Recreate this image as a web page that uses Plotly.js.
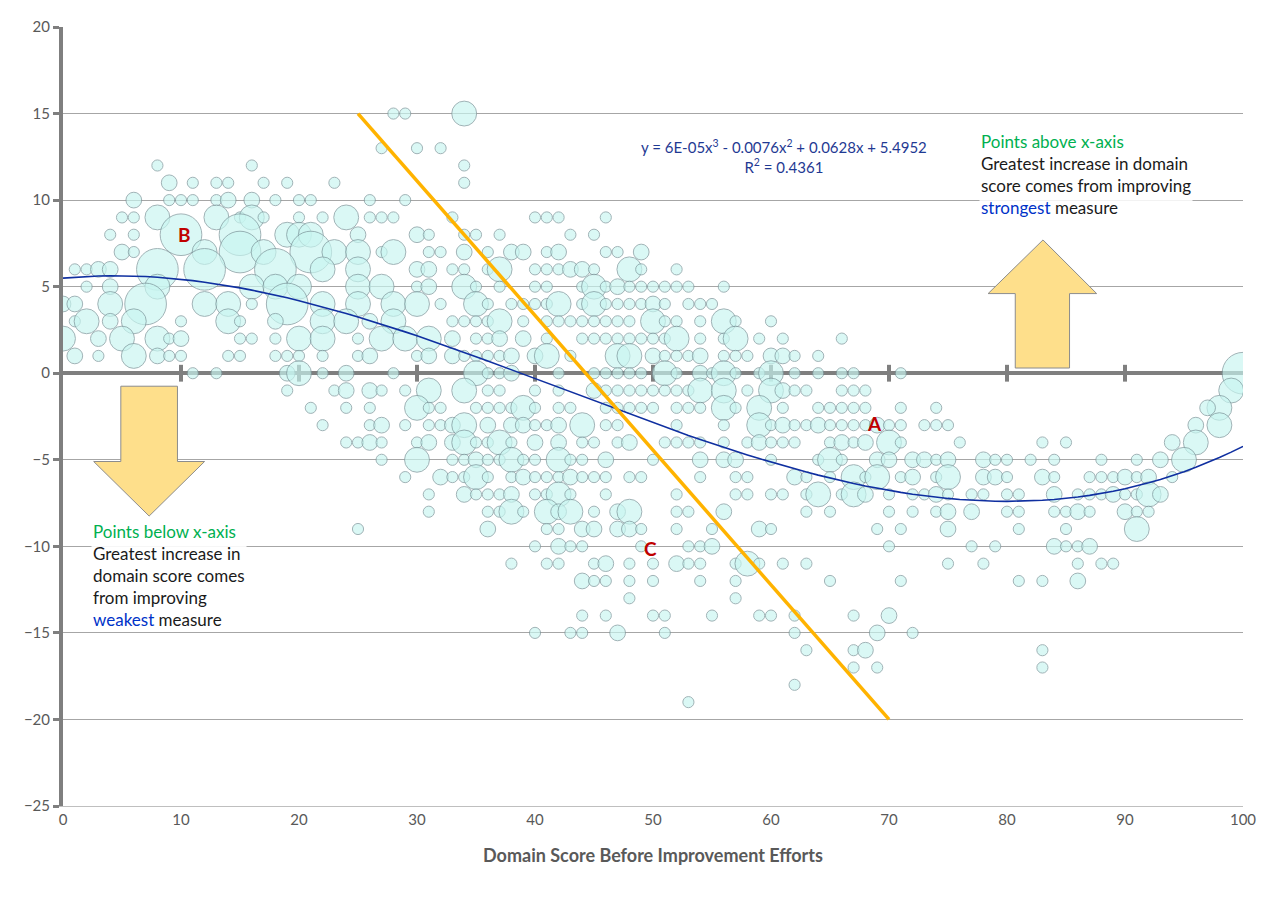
<!DOCTYPE html>
<html>
<head>
<meta charset="utf-8">
<script src="https://cdn.plot.ly/plotly-3.0.1.min.js"></script>
<style>
  body { margin: 0; background: #fff; }
  #chart { width: 1276px; height: 897px; }
</style>
</head>
<body>
<div id="chart"></div>
<script>
// bubble points as [x, y, weight]; weight 1 small, 2 medium, 5 big, 14 huge
const leftPoints = [
  [28,15,1],[29,15,1],
  [27,13,1],[30,13,1],[32,13,1],
  [8,12,1],[16,12,1],
  [9,11,2],[11,11,1],[13,11,1],[14,11,1],[17,11,1],[19,11,1],[23,11,1],
  [6,10,2],[9,10,1],[10,10,1],[11,10,1],[13,10,1],[14,10,2],[16,10,2],[18,10,1],[20,10,1],[21,10,1],[26,10,1],[29,10,1],
  [5,9,1],[6,9,1],[8,9,5],[13,9,5],[15,9,1],[16,9,5],[17,9,1],[20,9,1],[22,9,1],[24,9,5],[26,9,1],[27,9,1],[28,9,1],[33,9,1],
  [4,8,1],[6,8,1],[10,8,14],[15,8,14],[19,8,5],[20,8,5],[21,8,5],[25,8,2],[30,8,2],[31,8,1],
  [5,7,2],[6,7,1],[12,7,5],[15,7,14],[17,7,5],[21,7,14],[23,7,5],[25,7,5],[27,7,1],[28,7,5],[31,7,1],[32,7,1],
  [1,6,1],[2,6,1],[3,6,2],[4,6,2],[8,6,14],[12,6,14],[18,6,14],[22,6,5],[25,6,5],[30,6,2],[31,6,2],[33,6,1],
  [2,5,1],[4,5,2],[8,5,5],[16,5,5],[18,5,5],[20,5,5],[25,5,5],[27,5,5],[30,5,1],[31,5,2],
  [0,4,2],[1,4,2],[4,4,5],[7,4,14],[12,4,5],[14,4,5],[16,4,1],[19,4,14],[22,4,5],[25,4,5],[28,4,5],[30,4,5],[32,4,1],
  [1,3,1],[2,3,5],[4,3,2],[6,3,5],[10,3,1],[14,3,5],[15,3,1],[18,3,2],[22,3,5],[24,3,5],[26,3,2],[28,3,5],[33,3,1],
  [0,2,5],[3,2,2],[5,2,5],[8,2,5],[9,2,1],[10,2,2],[15,2,1],[16,2,1],[18,2,1],[20,2,5],[22,2,5],[25,2,1],[27,2,5],[29,2,5],[31,2,5],[33,2,2],
  [1,1,2],[3,1,1],[6,1,5],[8,1,2],[9,1,1],[10,1,1],[14,1,1],[15,1,1],[18,1,1],[19,1,1],[20,1,1],[22,1,1],[25,1,1],[26,1,2],[30,1,1],[31,1,2],[33,1,2],
  [11,0,1],[13,0,1],[19,0,2],[20,0,5],[22,0,1],[24,0,2],[28,0,1],
  [19,-1,1],[23,-1,1],[24,-1,2],[26,-1,2],[27,-1,1],[29,-1,1],[31,-1,5],
  [21,-2,1],[24,-2,1],[26,-2,1],[30,-2,5],[31,-2,1],[32,-2,1],
  [22,-3,1],[26,-3,1],[27,-3,2],[29,-3,1],[31,-3,1],[32,-3,1],[33,-3,2],
  [24,-4,1],[25,-4,1],[26,-4,2],[27,-4,1],[30,-4,1],[31,-4,2],[33,-4,2],
  [27,-5,1],[30,-5,5],[33,-5,1],
  [29,-6,1],[32,-6,2],[33,-6,1],
  [31,-7,1],[31,-8,1],[25,-9,1]
];
const midPoints = [
  [34,15,5],[34,12,1],[34,11,1],
  [40,9,1],[41,9,1],[42,9,1],[46,9,1],
  [34,8,1],[35,8,1],[37,8,1],[43,8,1],[45,8,1],
  [34,7,2],[36,7,1],[38,7,2],[39,7,2],[41,7,1],[42,7,2],[46,7,1],[47,7,1],[49,7,2],
  [34,6,1],[36,6,1],[37,6,5],[40,6,1],[41,6,1],[42,6,1],[43,6,2],[44,6,2],[45,6,1],[48,6,5],[49,6,1],[52,6,1],
  [34,5,5],[35,5,1],[37,5,1],[40,5,1],[41,5,1],[44,5,1],[45,5,5],[46,5,1],[47,5,2],[48,5,1],[49,5,1],[50,5,1],[51,5,1],[52,5,1],[53,5,1],[56,5,1],
  [35,4,5],[36,4,1],[38,4,1],[39,4,1],[40,4,1],[41,4,1],[42,4,5],[44,4,1],[45,4,5],[46,4,1],[47,4,1],[48,4,1],[49,4,1],[50,4,2],[51,4,1],[53,4,1],[54,4,1],[55,4,1],
  [34,3,1],[35,3,1],[36,3,1],[37,3,5],[39,3,1],[41,3,1],[42,3,1],[43,3,1],[44,3,1],[45,3,1],[46,3,1],[47,3,1],[48,3,1],[50,3,5],[51,3,1],[52,3,1],[54,3,1],[56,3,5],[57,3,1],[60,3,1],
  [35,2,1],[36,2,1],[37,2,2],[39,2,2],[41,2,1],[44,2,1],[45,2,1],[46,2,1],[47,2,1],[48,2,1],[49,2,1],[50,2,1],[51,2,1],[52,2,5],[54,2,1],[56,2,1],[57,2,5],[59,2,1],[61,2,1],[66,2,1],
  [34,1,1],[35,1,1],[36,1,1],[37,1,1],[38,1,2],[40,1,2],[41,1,5],[43,1,1],[47,1,5],[48,1,5],[50,1,2],[51,1,1],[52,1,1],[53,1,1],[54,1,2],[56,1,1],[57,1,1],[58,1,1],[60,1,2],[61,1,2],[62,1,1],[64,1,1],
  [35,0,5],[36,0,1],[37,0,1],[38,0,2],[42,0,1],[45,0,1],[46,0,1],[47,0,1],[48,0,1],[49,0,1],[51,0,5],[52,0,1],[54,0,2],[55,0,1],[56,0,5],[57,0,1],[59,0,1],[60,0,5],[62,0,1],[64,0,1],[66,0,1],
  [34,-1,5],[36,-1,1],[37,-1,1],[40,-1,1],[42,-1,1],[45,-1,2],[46,-1,1],[47,-1,1],[48,-1,1],[49,-1,1],[50,-1,1],[51,-1,1],[52,-1,1],[53,-1,1],[54,-1,5],[56,-1,5],[58,-1,1],[60,-1,5],[61,-1,2],[62,-1,1],[63,-1,1],[66,-1,1],
  [35,-2,1],[36,-2,1],[37,-2,1],[38,-2,1],[39,-2,5],[40,-2,1],[42,-2,1],[43,-2,1],[46,-2,1],[47,-2,1],[48,-2,1],[49,-2,1],[50,-2,1],[52,-2,1],[53,-2,1],[54,-2,1],[56,-2,5],[57,-2,1],[59,-2,5],[61,-2,1],[64,-2,1],[65,-2,1],[66,-2,1],
  [34,-3,5],[36,-3,2],[38,-3,2],[39,-3,2],[40,-3,1],[41,-3,1],[42,-3,2],[44,-3,5],[46,-3,1],[47,-3,1],[52,-3,1],[56,-3,1],[59,-3,5],[60,-3,1],[61,-3,2],[62,-3,1],[63,-3,1],[64,-3,2],[65,-3,1],[66,-3,1],
  [34,-4,5],[35,-4,1],[36,-4,1],[37,-4,5],[38,-4,1],[40,-4,2],[42,-4,2],[44,-4,1],[45,-4,1],[47,-4,1],[48,-4,2],[51,-4,1],[52,-4,1],[53,-4,1],[54,-4,1],[56,-4,1],[58,-4,1],[59,-4,2],[60,-4,1],[61,-4,1],[62,-4,1],[65,-4,1],[66,-4,2],
  [34,-5,1],[35,-5,2],[36,-5,1],[37,-5,1],[38,-5,5],[39,-5,1],[40,-5,1],[42,-5,5],[43,-5,1],[44,-5,1],[46,-5,2],[50,-5,1],[54,-5,2],[56,-5,2],[57,-5,2],[60,-5,1],[64,-5,1],[65,-5,5],[66,-5,1],
  [34,-6,1],[35,-6,5],[36,-6,1],[38,-6,1],[39,-6,2],[40,-6,1],[41,-6,1],[42,-6,1],[43,-6,2],[44,-6,1],[45,-6,1],[46,-6,1],[48,-6,1],[49,-6,1],[54,-6,1],[57,-6,1],[58,-6,1],[62,-6,2],[63,-6,1],[65,-6,1],
  [34,-7,2],[35,-7,1],[36,-7,1],[37,-7,1],[38,-7,2],[40,-7,1],[41,-7,1],[42,-7,5],[43,-7,1],[46,-7,1],[52,-7,1],[57,-7,1],[58,-7,1],[60,-7,1],[61,-7,1],[63,-7,1],[64,-7,5],[66,-7,1],
  [36,-8,1],[37,-8,1],[38,-8,5],[39,-8,1],[41,-8,5],[42,-8,2],[43,-8,5],[45,-8,1],[47,-8,2],[48,-8,5],[52,-8,1],[53,-8,1],[56,-8,2],[63,-8,1],[65,-8,1],
  [36,-9,2],[41,-9,1],[42,-9,1],[44,-9,2],[45,-9,2],[47,-9,2],[48,-9,2],[49,-9,1],[52,-9,1],[55,-9,1],[59,-9,2],[60,-9,1],
  [40,-10,1],[42,-10,2],[43,-10,1],[44,-10,1],[49,-10,1],[53,-10,1],[54,-10,1],[55,-10,2],
  [38,-11,1],[41,-11,1],[42,-11,1],[45,-11,1],[46,-11,2],[48,-11,1],[50,-11,1],[52,-11,2],[53,-11,1],[54,-11,1],[57,-11,1],[58,-11,5],[59,-11,1],[61,-11,1],[63,-11,1],
  [44,-12,2],[45,-12,1],[46,-12,1],[48,-12,1],[50,-12,1],[54,-12,1],[57,-12,1],[65,-12,1],
  [48,-13,1],[57,-13,1],
  [44,-14,1],[46,-14,1],[50,-14,1],[51,-14,1],[55,-14,1],[59,-14,1],[60,-14,1],[62,-14,1],
  [40,-15,1],[43,-15,1],[44,-15,1],[47,-15,2],[51,-15,1],[62,-15,1],
  [63,-16,1],[62,-18,1],[53,-19,1]
];
const rightPoints = [
  [100,0,14],[99,-1,5],[98,-2,5],[97,-2,2],[98,-3,5],[96,-3,2],[96,-4,5],[94,-4,2],[95,-5,5],[93,-5,2],
  [67,0,1],[71,0,1],
  [67,-1,1],[68,-1,1],
  [67,-2,1],[68,-2,1],[71,-2,1],[74,-2,1],
  [67,-3,1],[68,-3,1],[69,-3,2],[70,-3,1],[71,-3,1],[73,-3,1],[74,-3,1],[75,-3,1],
  [67,-4,1],[68,-4,2],[70,-4,5],[71,-4,1],[76,-4,1],[83,-4,1],[85,-4,1],
  [69,-5,2],[70,-5,2],[72,-5,2],[73,-5,2],[74,-5,1],[75,-5,2],[78,-5,2],[79,-5,1],[80,-5,1],[82,-5,1],[84,-5,1],[88,-5,1],[91,-5,1],
  [67,-6,5],[68,-6,1],[69,-6,5],[71,-6,1],[72,-6,2],[74,-6,1],[75,-6,5],[78,-6,2],[79,-6,2],[80,-6,1],[83,-6,2],[84,-6,1],[87,-6,1],[88,-6,1],[89,-6,1],[90,-6,2],[91,-6,1],[92,-6,2],[94,-6,1],
  [67,-7,5],[68,-7,2],[70,-7,1],[72,-7,1],[73,-7,1],[74,-7,2],[75,-7,1],[77,-7,1],[78,-7,1],[80,-7,1],[81,-7,1],[84,-7,2],[86,-7,1],[87,-7,1],[88,-7,1],[89,-7,2],[90,-7,1],[91,-7,1],[92,-7,5],[93,-7,2],
  [70,-8,1],[72,-8,1],[74,-8,1],[75,-8,2],[77,-8,2],[80,-8,1],[81,-8,1],[84,-8,1],[85,-8,1],[86,-8,2],[87,-8,1],[90,-8,2],[91,-8,1],[92,-8,1],
  [69,-9,1],[71,-9,1],[75,-9,2],[81,-9,1],[85,-9,1],[91,-9,5],
  [70,-10,1],[77,-10,1],[79,-10,1],[84,-10,2],[85,-10,1],[86,-10,1],[87,-10,2],
  [75,-11,1],[78,-11,1],[86,-11,1],[88,-11,1],[89,-11,1],
  [71,-12,1],[81,-12,1],[83,-12,1],[86,-12,2],
  [67,-14,1],[70,-14,2],
  [69,-15,2],[72,-15,1],
  [67,-16,1],[68,-16,2],[83,-16,1],
  [67,-17,1],[69,-17,1],[83,-17,1]
];
// polynomial trendline as labelled on the chart
const trendCoef = [6e-5, -0.0076, 0.0628, 5.4952];
const trendX = Array.from({length: 101}, (_, i) => i);
// hand-drawn orange line end points
const orangeX = [25, 70];
const orangeY = [15, -20];
const zeroTicks = [10, 20, 30, 40, 50, 60, 70, 80, 90];

const allPoints = leftPoints.concat(midPoints, rightPoints);
const xs = allPoints.map(p => p[0]);
const ys = allPoints.map(p => p[1]);
const ws = allPoints.map(p => p[2]);
const trendY = trendX.map(x => ((trendCoef[0]*x + trendCoef[1])*x + trendCoef[2])*x + trendCoef[3]);

const font = "Lato, 'Open Sans', sans-serif";

const data = [
  {
    x: zeroTicks, y: zeroTicks.map(() => 0), mode: 'markers', hoverinfo: 'skip',
    marker: {symbol: 'line-ns', size: 12, line: {width: 4, color: '#7f7f7f'}}
  },
  {
    x: xs, y: ys, mode: 'markers', hoverinfo: 'x+y',
    marker: {
      size: ws, sizemode: 'area', sizeref: 1/62, sizemin: 1,
      color: 'rgba(200,245,240,0.95)', line: {width: 1, color: '#7a9499'}
    }
  },
  {
    x: trendX, y: trendY, mode: 'lines', hoverinfo: 'skip',
    line: {color: '#0f2fa0', width: 1.6}
  },
  {
    x: orangeX, y: orangeY, mode: 'lines', hoverinfo: 'skip',
    line: {color: '#ffb300', width: 3.5}
  }
];

const arrowStyle = {fillcolor: '#fedf8b', line: {color: '#8c8c8c', width: 1}, xref: 'x', yref: 'y', layer: 'above'};
const layout = {
  width: 1276, height: 897,
  margin: {l: 63, r: 33, t: 27, b: 91},
  paper_bgcolor: '#fff', plot_bgcolor: '#fff',
  showlegend: false,
  font: {family: font, color: '#595959', size: 15},
  xaxis: {
    range: [0, 100], dtick: 10, tick0: 0, showgrid: false, zeroline: false,
    showline: true, linecolor: '#bfbfbf', linewidth: 1, ticks: '', tickfont: {size: 15, color: '#595959'},
    title: {text: '<b>Domain Score Before Improvement Efforts</b>', font: {size: 18, color: '#595959'}, standoff: 22}
  },
  yaxis: {
    range: [-25, 20], dtick: 5, tick0: 0, showgrid: true, gridcolor: '#a6a6a6', gridwidth: 1,
    zeroline: true, zerolinecolor: '#7f7f7f', zerolinewidth: 4,
    showline: true, linecolor: '#7f7f7f', linewidth: 4, ticks: 'outside', ticklen: 6, tickwidth: 3, tickcolor: '#7f7f7f',
    tickfont: {size: 15, color: '#595959'}
  },
  shapes: [
    Object.assign({type: 'path', path: 'M 80.7,0.3 L 80.7,4.6 L 78.4,4.6 L 83.05,7.7 L 87.6,4.6 L 85.3,4.6 L 85.3,0.3 Z'}, arrowStyle),
    Object.assign({type: 'path', path: 'M 4.9,-0.75 L 4.9,-5.1 L 2.6,-5.1 L 7.3,-8.25 L 12.0,-5.1 L 9.7,-5.1 L 9.7,-0.75 Z'}, arrowStyle)
  ],
  annotations: [
    {x: 48.8, y: 12.5, xref: 'x', yref: 'y', xanchor: 'left', showarrow: false, align: 'center',
     text: 'y = 6E-05x<sup>3</sup> - 0.0076x<sup>2</sup> + 0.0628x + 5.4952<br>R<sup>2</sup> = 0.4361',
     font: {size: 15, color: '#1f3a93'}},
    {x: 10.3, y: 8, xref: 'x', yref: 'y', showarrow: false, text: '<b>B</b>', font: {size: 19, color: '#c00000'}},
    {x: 68.8, y: -2.9, xref: 'x', yref: 'y', showarrow: false, text: '<b>A</b>', font: {size: 19, color: '#c00000'}},
    {x: 49.8, y: -10.1, xref: 'x', yref: 'y', showarrow: false, text: '<b>C</b>', font: {size: 19, color: '#c00000'}},
    {x: 77.6, y: 14.1, xref: 'x', yref: 'y', xanchor: 'left', yanchor: 'top', align: 'left', showarrow: false,
     text: '<span style="color:#00b050">Points above x-axis</span><br>Greatest increase in domain<br>score comes from improving<br><span style="color:#0032c8">strongest</span> measure',
     font: {size: 17, color: '#1a1a1a'}, bgcolor: 'rgba(255,255,255,0.85)'},
    {x: 2.4, y: -8.4, xref: 'x', yref: 'y', xanchor: 'left', yanchor: 'top', align: 'left', showarrow: false,
     text: '<span style="color:#00b050">Points below x-axis</span><br>Greatest increase in<br>domain score comes<br>from improving<br><span style="color:#0032c8">weakest</span> measure',
     font: {size: 17, color: '#1a1a1a'}, bgcolor: 'rgba(255,255,255,0.9)'}
  ]
};

Plotly.newPlot('chart', data, layout, {displayModeBar: false, staticPlot: true});
</script>
</body>
</html>
